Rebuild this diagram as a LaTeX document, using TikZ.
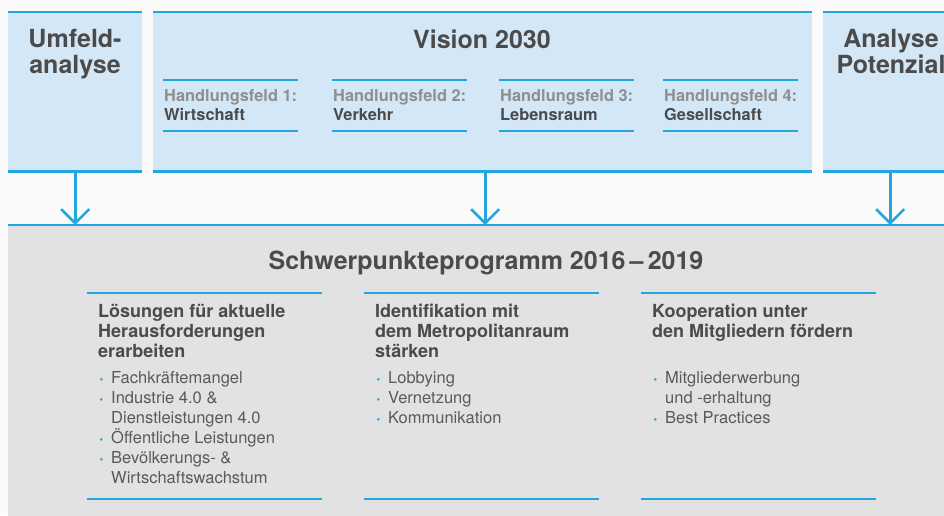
\documentclass[tikz,border=0pt]{standalone}
\usepackage{fontspec}
\setmainfont{TeX Gyre Heros}
\usetikzlibrary{arrows.meta}

\definecolor{blau}{HTML}{22A6DF}
\definecolor{hellblau}{HTML}{D4E7F7}
\definecolor{hellgrau}{HTML}{E2E2E2}
\definecolor{hintergrund}{HTML}{FAFAFA}
\definecolor{schrift}{HTML}{4B4B4B}
\definecolor{feldgrau}{HTML}{8F8F8F}
\definecolor{listengrau}{HTML}{5A5A5A}

\newcommand{\punkt}{\makebox[13pt][l]{\hspace{1.5pt}\textcolor{blau}{\fontsize{10.5}{10}\selectfont\textbullet}}}
\newcommand{\einzug}{\hspace*{13pt}}

\tikzset{
  kasten/.style={fill=hellblau, draw=none, inner sep=0pt, anchor=north west},
  linie/.style={draw=blau, line width=2.6pt},
  feldlinie/.style={draw=blau, line width=2pt},
  pfeil/.style={draw=blau, line width=2.6pt, -{Straight Barb[length=14pt,width=28pt]}},
  titel/.style={font=\fontsize{25}{26}\selectfont\bfseries, text=schrift, align=center, inner sep=0pt, anchor=base},
  feld/.style={font=\fontsize{16.4}{19}\selectfont\bfseries, text=schrift, align=left, inner sep=0pt, anchor=base west},
  kopf/.style={font=\fontsize{18}{20}\selectfont\bfseries, text=schrift, align=left, inner sep=0pt, anchor=base west},
  liste/.style={font=\fontsize{16.5}{20}\selectfont, text=listengrau, align=left, inner sep=0pt, anchor=base west}
}

\begin{document}
\begin{tikzpicture}[x=1pt,y=-1pt]
\clip (0,0) rectangle (944,515);
\fill[hintergrund] (0,0) rectangle (944,515);

% obere Kaesten
\node[kasten, minimum width=134pt, minimum height=159pt] (umfeld) at (8,12) {};
\node[kasten, minimum width=659pt, minimum height=159pt] (vision) at (153,12) {};
\node[kasten, minimum width=134pt, minimum height=159pt] (potenzial) at (823,12) {};
\node[kasten, fill=hellgrau, minimum width=960pt, minimum height=300pt] (programm) at (8,225) {};

% blaue Linien oben und unten
\foreach \k in {umfeld,vision,potenzial} {
  \draw[linie] (\k.north west) -- (\k.north east);
  \draw[linie] (\k.south west) -- (\k.south east);
}
\draw[linie] (programm.north west) -- (programm.north east);

% Pfeile
\foreach \k/\dx in {umfeld/0,vision/2.5,potenzial/0}
  \draw[pfeil] ([xshift=\dx pt]\k.south) -- ([xshift=\dx pt]\k.south |- programm.north);

% Titel (Anker: Grundlinie der letzten Zeile)
\node[titel] (umfeldtitel) at (75,73) {Umfeld-\\analyse};
\node[titel] (visiontitel) at (482,48) {Vision 2030};
\node[titel] (potenzialtitel) at (891,73) {Analyse\\Potenzial};
\node[titel] (programmtitel) at (486,269) {Schwerpunkteprogramm 2016\,--\,2019};

% Handlungsfelder
\foreach \nr/\xl/\name in {1/163/Wirtschaft,2/332/Verkehr,3/499/Lebensraum,4/663/Gesellschaft} {
  \draw[feldlinie] (\xl,80) -- ++(135,0);
  \draw[feldlinie] (\xl,131) -- ++(135,0);
  \node[feld] (feld\nr) at (\xl+1,120) {\textcolor{feldgrau}{Handlungsfeld \nr:}\\\name};
}

% Schwerpunkte
\foreach \xl in {87,364,641} {
  \draw[feldlinie] (\xl,293) -- ++(235,0);
  \draw[feldlinie] (\xl,499) -- ++(235,0);
}
\node[kopf] (kopf1) at (98,357) {Lösungen für aktuelle\\Herausforderungen\\erarbeiten};
\node[liste] (liste1) at (98,483) {\punkt Fachkräftemangel\\\punkt Industrie 4.0 \&\\\einzug Dienstleistungen 4.0\\\punkt Öffentliche Leistungen\\\punkt Bevölkerungs- \&\\\einzug Wirtschaftswachstum};
\node[kopf] (kopf2) at (375,357) {Identifikation mit\\dem Metropolitanraum\\stärken};
\node[liste] (liste2) at (375,423) {\punkt Lobbying\\\punkt Vernetzung\\\punkt Kommunikation};
\node[kopf] (kopf3) at (652,337) {Kooperation unter\\den Mitgliedern fördern};
\node[liste] (liste3) at (652,423) {\punkt Mitgliederwerbung\\\einzug und -erhaltung\\\punkt Best Practices};

\end{tikzpicture}
\end{document}
